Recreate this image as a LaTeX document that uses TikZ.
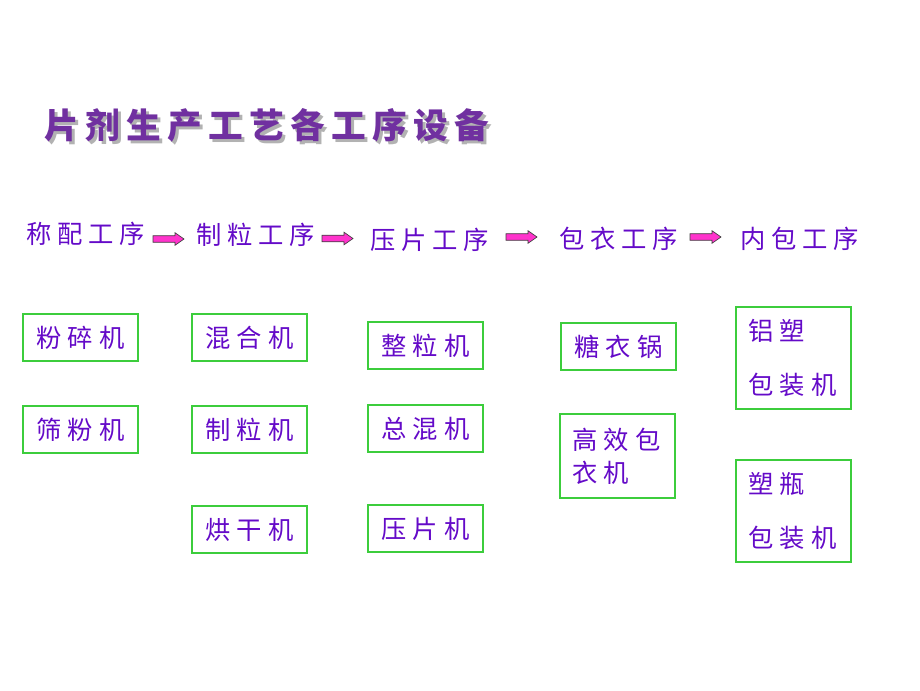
\documentclass[tikz,border=0pt]{standalone}
\usepackage{fontspec}
\newfontfamily\cjk{Noto Sans CJK SC}
\definecolor{titlepurple}{RGB}{112,48,160}
\definecolor{textpurple}{RGB}{100,10,200}
\definecolor{boxgreen}{RGB}{60,205,60}
\definecolor{arrowpink}{RGB}{255,51,204}
\newcommand{\cjkfont}[2]{\cjk\fontsize{#1}{#1}\selectfont\addfontfeature{LetterSpace=#2}}
% spread the characters of a title apart by a fixed gap
\newcommand{\spreadtext}[2]{\def\spreadgap{\hspace{#1}}\spreadloop#2\relax}
\def\spreadloop#1{\ifx#1\relax\else#1\spreadgap\expandafter\spreadloop\fi}
\tikzset{
  head/.style={font=\cjkfont{19pt}{22}, text=textpurple, inner sep=0pt},
  machine/.style={draw=boxgreen, line width=0.8pt, text=textpurple, inner sep=0pt,
    minimum width=86.25pt, minimum height=35.25pt, font=\cjkfont{19pt}{25}},
  tallbox/.style={machine, align=left, text width=68.25pt, inner xsep=9pt},
  titletext/.style={font=\cjk\bfseries\fontsize{26pt}{26pt}\selectfont,
    anchor=west, inner sep=0pt},
  flowarrow/.style={draw=black!75, fill=arrowpink, line width=0.5pt, line join=miter}
}
\begin{document}
\begin{tikzpicture}[x=0.75pt,y=-0.75pt]
  \useasboundingbox (0,0) rectangle (920,690);
  % title with shadow
  \node[titletext, text=black!30] (shadow) at (47,128) {\spreadtext{4.8pt}{片剂生产工艺各工序设备}};
  \node[titletext, text=titlepurple] (title) at (44,125) {\spreadtext{4.8pt}{片剂生产工艺各工序设备}};
  % process steps
  \node[head] (s1) at (86,234) {称配工序};
  \node[head] (s2) at (256,235) {制粒工序};
  \node[head] (s3) at (430,240) {压片工序};
  \node[head] (s4) at (619,239) {包衣工序};
  \node[head] (s5) at (800,239) {内包工序};
  % block arrows between steps
  \coordinate (a1) at (153,239);
  \coordinate (a2) at (322,238.5);
  \coordinate (a3) at (506,237);
  \coordinate (a4) at (690,237);
  \foreach \a in {a1,a2,a3,a4}
    \draw[flowarrow] (\a) ++(0,-3.3) -- ++(22,0) -- ++(0,-3) -- ++(9,6.3)
      -- ++(-9,6.3) -- ++(0,-3) -- ++(-22,0) -- cycle;
  % equipment
  \node[machine] (m11) at (80.5,337.5) {粉碎机};
  \node[machine] (m12) at (80.5,429.5) {筛粉机};
  \node[machine] (m21) at (249.5,337.5) {混合机};
  \node[machine] (m22) at (249.5,429.5) {制粒机};
  \node[machine] (m23) at (249.5,529.5) {烘干机};
  \node[machine] (m31) at (425.5,345.5) {整粒机};
  \node[machine] (m32) at (425.5,428.5) {总混机};
  \node[machine] (m33) at (425.5,528.5) {压片机};
  \node[machine] (m41) at (618.5,346.5) {糖衣锅};
  \node[tallbox, minimum height=63pt] (m42) at (617.5,456) {高效包\\[6pt]衣机};
  \node[tallbox, minimum height=76.5pt] (m51) at (793.5,358) {铝塑\\[22pt]包装机};
  \node[tallbox, minimum height=76.5pt] (m52) at (793.5,511) {塑瓶\\[22pt]包装机};
\end{tikzpicture}
\end{document}
